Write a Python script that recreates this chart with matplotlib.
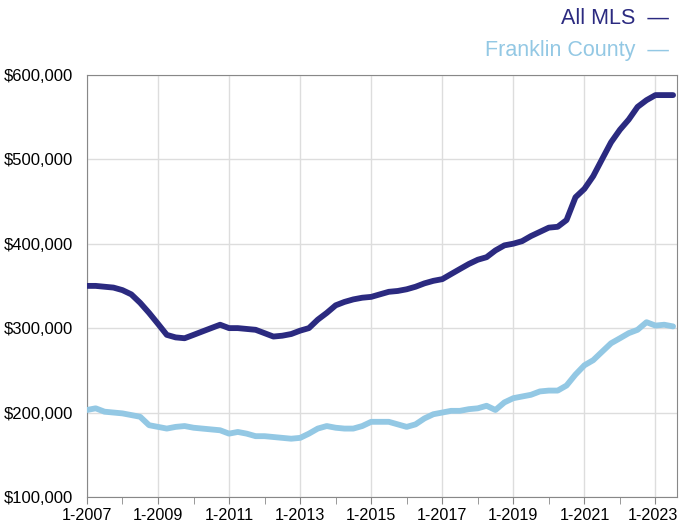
import numpy as np
import pandas as pd
import matplotlib
matplotlib.use('Agg')
import matplotlib.pyplot as plt
import matplotlib.transforms as mtransforms
from matplotlib.ticker import FuncFormatter

# quarterly median sales price (thousands of dollars), 1-2007 .. 7-2023
dates = list(pd.date_range('2007-01-01', '2023-07-01', freq='QS'))
all_mls = [
    350, 350, 349, 348,
    345, 340, 330, 318,
    305, 292, 289, 288,
    292, 296, 300, 304,
    300, 300, 299, 298,
    294, 290, 291, 293,
    297, 300, 310, 318,
    327, 331, 334, 336,
    337, 340, 343, 344,
    346, 349, 353, 356,
    358, 364, 370, 376,
    381, 384, 392, 398,
    400, 403, 409, 414,
    419, 420, 428, 455,
    465, 480, 500, 520,
    535, 547, 562, 570,
    576, 576, 576,
]
franklin = [
    203, 205, 201, 200,
    199, 197, 195, 185,
    183, 181, 183, 184,
    182, 181, 180, 179,
    175, 177, 175, 172,
    172, 171, 170, 169,
    170, 175, 181, 184,
    182, 181, 181, 184,
    189, 189, 189, 186,
    183, 186, 193, 198,
    200, 202, 202, 204,
    205, 208, 203, 212,
    217, 219, 221, 225,
    226, 226, 232, 245,
    256, 262, 272, 282,
    288, 294, 298, 307,
    303, 304, 302,
]
series_names = ['All MLS', 'Franklin County']
colors = ['#2b2a80', '#93c8e4']
label_years = list(range(2007, 2024, 2))
minor_years = list(range(2008, 2024, 2))

plt.rcParams['font.family'] = ['Liberation Sans', 'DejaVu Sans']

fig = plt.figure(figsize=(6.79, 5.27), dpi=100)
ax = fig.add_axes([0.128, 0.057, 0.869, 0.801])

ax.plot(dates, np.array(franklin) * 1000, color=colors[1], lw=4.2, solid_capstyle='round', zorder=3)
ax.plot(dates, np.array(all_mls) * 1000, color=colors[0], lw=4.2, solid_capstyle='round', zorder=4)

ax.set_ylim(100000, 600000)
ax.set_yticks(np.arange(100000, 600001, 100000))
ax.yaxis.set_major_formatter(FuncFormatter(lambda v, p: '${:,.0f}'.format(v)))
ax.set_xlim(pd.Timestamp('2007-01-01'), pd.Timestamp('2023-08-10'))

ax.set_xticks([pd.Timestamp('%d-01-01' % y) for y in label_years])
ax.set_xticklabels(['1-%d' % y for y in label_years])
ax.set_xticks([pd.Timestamp('%d-01-01' % y) for y in minor_years], minor=True)

ax.grid(True, which='major', color='#dddddd', lw=1)
ax.set_axisbelow(True)
for s in ax.spines.values():
    s.set_color('#888888')
ax.tick_params(axis='y', length=0, labelsize=12, pad=10)
ax.tick_params(axis='x', which='both', length=5, color='#888888', labelsize=11.6, pad=3)

# nudge the last tick label so it stays inside the figure
last = ax.get_xticklabels()[-1]
last.set_transform(last.get_transform() + mtransforms.ScaledTranslation(-3 / 100, 0, fig.dpi_scale_trans))

fig.text(0.985, 0.965, series_names[0] + '  \u2014', color=colors[0], ha='right', va='center', fontsize=15.5)
fig.text(0.985, 0.905, series_names[1] + '  \u2014', color=colors[1], ha='right', va='center', fontsize=15.5)

fig.savefig('out.png', dpi=100)
